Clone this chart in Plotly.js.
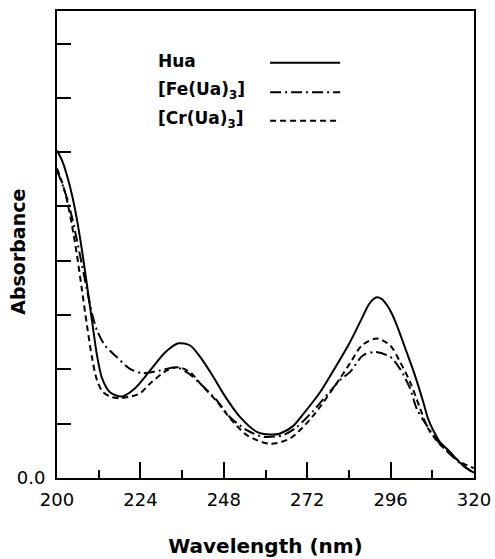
<!DOCTYPE html>
<html>
<head>
<meta charset="utf-8">
<script src="https://cdn.plot.ly/plotly-3.0.1.min.js"></script>
<style>html,body{margin:0;padding:0;background:#fff;}#chart{width:495px;height:559px;}</style>
</head>
<body>
<div id="chart"></div>
<script>
// Hua (solid)
var wlHua = [200,201.44,202.88,204.32,205.76,207.19,208.63,210.07,211.51,212.95,215.25,218.6,222.4,226.8,231.1,234.9,238.3,241.2,245.0,247.9,252.7,257.5,261.3,264.2,268.0,270.5,275.7,280.5,284.3,287.2,289.6,290.8,292.0,293.4,294.9,296.4,297.8,300.6,303.0,305.4,306.8,308.5,310.2,313.1,316.0,318.8,320];
var absHua = [0.603,0.585,0.557,0.521,0.475,0.419,0.355,0.290,0.226,0.184,0.158,0.150,0.165,0.198,0.231,0.248,0.244,0.223,0.186,0.155,0.112,0.085,0.080,0.082,0.096,0.115,0.158,0.208,0.250,0.287,0.318,0.328,0.333,0.330,0.319,0.302,0.281,0.232,0.189,0.140,0.109,0.085,0.066,0.048,0.028,0.014,0.010];
// [Fe(Ua)3] (dash-dot)
var wlFe = [200,201.44,202.88,204.32,205.76,207.19,208.63,210.07,211.51,213.81,217.18,221.0,224.83,229.6,234.4,238.0,241.2,246.0,249.8,254.6,259.4,265.1,269.0,273.5,281.7,284.3,288.1,291.5,295.9,298.7,301.6,303.5,306.4,310.2,316.0,320];
var absFe = [0.566,0.543,0.515,0.480,0.437,0.392,0.346,0.303,0.272,0.244,0.223,0.201,0.193,0.198,0.204,0.192,0.174,0.143,0.112,0.088,0.076,0.079,0.094,0.122,0.182,0.195,0.226,0.232,0.223,0.201,0.165,0.128,0.097,0.063,0.027,0.009];
// [Cr(Ua)3] (dashed)
var wlCr = [200,201.44,202.88,204.32,205.76,207.19,208.63,210.07,211.51,213.24,215.83,218.13,220.5,223.9,226.8,231.6,234.8,238.3,241.2,246.0,249.8,254.6,261.3,267.1,273.5,281.4,284.3,287.7,292.0,295.9,298.7,301.6,304.5,306.8,310.2,316.0,320];
var absCr = [0.570,0.545,0.511,0.465,0.410,0.346,0.281,0.222,0.180,0.158,0.149,0.147,0.149,0.156,0.174,0.198,0.204,0.195,0.174,0.141,0.110,0.079,0.063,0.073,0.113,0.183,0.211,0.244,0.257,0.244,0.214,0.177,0.128,0.091,0.062,0.030,0.018];

var seriesNames = ["Hua", "[Fe(Ua)<sub>3</sub>]", "[Cr(Ua)<sub>3</sub>]"];
var yTickVals = [0];
var yTickText = ["0.0"];
var yMinorTickVals = [0.1,0.2,0.3,0.4,0.5,0.6,0.7,0.8];
var xTickVals = [200,224,248,272,296,320];
var xMinorTickVals = [212,236,260,284,308];

var dashes = ["solid", "11px,4px,2px,4px", "6px,4px"];
var traces = [
  {x: wlHua, y: absHua, name: seriesNames[0], mode: "lines", line: {color: "#000", width: 2, dash: dashes[0], shape: "spline", smoothing: 0.8}},
  {x: wlFe, y: absFe, name: seriesNames[1], mode: "lines", line: {color: "#000", width: 2, dash: dashes[1], shape: "spline", smoothing: 0.8}},
  {x: wlCr, y: absCr, name: seriesNames[2], mode: "lines", line: {color: "#000", width: 2, dash: dashes[2], shape: "spline", smoothing: 0.8}}
];

var FONT = "DejaVu Sans, Liberation Sans, Arial, sans-serif";
var legY = [0.893, 0.829, 0.768];
var annotations = [];
var shapes = [];
for (var i = 0; i < 3; i++) {
  annotations.push({xref: "paper", yref: "paper", x: 0.238, y: legY[i], xanchor: "left", yanchor: "middle",
    text: "<b>" + seriesNames[i] + "</b>", showarrow: false, font: {family: FONT, size: 17, color: "#000"}});
  shapes.push({type: "line", xref: "paper", yref: "paper", x0: 0.511, x1: 0.679, y0: legY[i] - (i === 0 ? 0.004 : 0.003), y1: legY[i] - (i === 0 ? 0.004 : 0.003),
    line: {color: "#000", width: 2, dash: dashes[i]}});
}
// y axis title
annotations.push({xref: "paper", yref: "paper", x: -0.094, y: 0.484, xanchor: "center", yanchor: "middle", textangle: -90,
  text: "<b>Absorbance</b>", showarrow: false, font: {family: FONT, size: 19, color: "#000"}});

var layout = {
  width: 495, height: 559,
  margin: {l: 57, r: 21, t: 11, b: 81},
  paper_bgcolor: "#fff", plot_bgcolor: "#fff",
  showlegend: false,
  font: {family: FONT, color: "#000"},
  xaxis: {
    range: [200, 320], tickvals: xTickVals, ticktext: xTickVals.map(String),
    ticks: "inside", ticklen: 16, tickwidth: 2, tickcolor: "#000",
    minor: {tickvals: xMinorTickVals, ticks: "inside", ticklen: 8, tickwidth: 2, tickcolor: "#000"},
    showline: true, linecolor: "#000", linewidth: 2, mirror: true, showgrid: false, zeroline: false,
    tickfont: {family: FONT, size: 18, color: "#000"}, ticklabelstandoff: 4,
    title: {text: "<b>Wavelength (nm)</b>", font: {family: FONT, size: 20, color: "#000"}, standoff: 30}
  },
  yaxis: {
    range: [0, 0.86], tickvals: yTickVals, ticktext: yTickText,
    ticks: "inside", ticklen: 14, tickwidth: 2, tickcolor: "#000",
    minor: {tickvals: yMinorTickVals, ticks: "inside", ticklen: 14, tickwidth: 2, tickcolor: "#000"},
    showline: true, linecolor: "#000", linewidth: 2, mirror: true, showgrid: false, zeroline: false,
    tickfont: {family: FONT, size: 18, color: "#000"}, ticklabelstandoff: 6
  },
  annotations: annotations,
  shapes: shapes
};

Plotly.newPlot("chart", traces, layout, {displayModeBar: false, staticPlot: true});
</script>
</body>
</html>
